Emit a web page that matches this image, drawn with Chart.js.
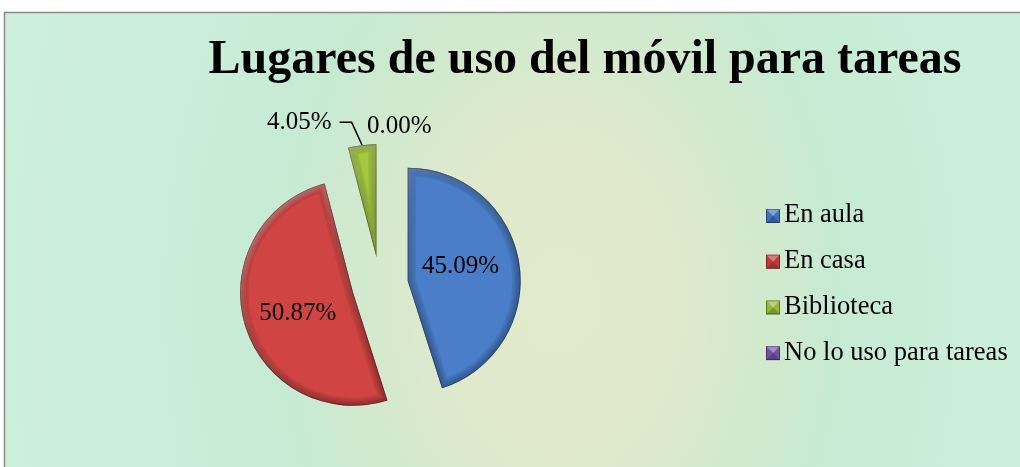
<!DOCTYPE html>
<html>
<head>
<meta charset="utf-8">
<script src="https://cdn.jsdelivr.net/npm/chart.js@4.4.1/dist/chart.umd.min.js"></script>
<style>
  html, body { margin: 0; padding: 0; background: #ffffff; }
  #wrap { position: relative; width: 1020px; height: 467px; }
  canvas { display: block; }
</style>
</head>
<body>
<div id="wrap"><canvas id="c" width="1020" height="467"></canvas></div>
<script>
// ---- data ----
const chartTitle = 'Lugares de uso del móvil para tareas';
const categories = ['En aula', 'En casa', 'Biblioteca', 'No lo uso para tareas'];
const values = [45.09, 50.87, 4.05, 0.00];
const valueLabels = ['45.09%', '50.87%', '4.05%', '0.00%'];
const sliceColors = ['#4a7ec9', '#d04543', '#a5cb3d', '#7b5aa6'];
const legendColors = ['#3f70b8', '#c03a3a', '#93b83a', '#7050a0'];

const SERIF = "'Liberation Serif', 'Times New Roman', serif";
const EXPLODE = 28;

function sliceShift(arc) {
  const mid = (arc.startAngle + arc.endAngle) / 2;
  return { dx: Math.cos(mid) * EXPLODE, dy: Math.sin(mid) * EXPLODE, mid };
}

function arcPath(ctx, arc) {
  ctx.beginPath();
  ctx.moveTo(arc.x, arc.y);
  ctx.arc(arc.x, arc.y, arc.outerRadius, arc.startAngle, arc.endAngle);
  ctx.closePath();
}

const decorPlugin = {
  id: 'decor',
  beforeDraw(chart) {
    const ctx = chart.ctx;
    ctx.save();
    ctx.fillStyle = '#ffffff';
    ctx.fillRect(0, 0, 1020, 467);
    // background gradient (elliptical)
    ctx.save();
    ctx.beginPath();
    ctx.rect(4, 12, 1030, 470);
    ctx.clip();
    ctx.translate(560, 300);
    ctx.scale(1, 1.4);
    const g = ctx.createRadialGradient(0, 0, 0, 0, 0, 580);
    g.addColorStop(0.0, '#e2e9cd');
    g.addColorStop(0.2, '#e0e9cc');
    g.addColorStop(0.34, '#d3e9ce');
    g.addColorStop(0.48, '#c7ead3');
    g.addColorStop(0.7, '#caeed9');
    g.addColorStop(1.0, '#cdefdd');
    ctx.fillStyle = g;
    ctx.fillRect(-600, -400, 1200, 800);
    ctx.restore();
    // frame
    ctx.strokeStyle = '#8a8a8a';
    ctx.lineWidth = 1.5;
    ctx.beginPath();
    ctx.moveTo(1030, 12.5);
    ctx.lineTo(4.5, 12.5);
    ctx.lineTo(4.5, 480);
    ctx.stroke();
    ctx.restore();
  },
  beforeDatasetDraw(chart, args) {
    const ctx = chart.ctx;
    const meta = args.meta;
    meta.data.forEach((arc) => {
      if (!(arc.circumference > 0)) return;
      const s = sliceShift(arc);
      ctx.save();
      ctx.translate(s.dx, s.dy);
      arc.draw(ctx);
      // soft bevel
      arcPath(ctx, arc);
      ctx.clip();
      ctx.lineJoin = 'round';
      for (let k = 0; k < 6; k++) {
        arcPath(ctx, arc);
        ctx.lineWidth = 2 + k * 3;
        ctx.strokeStyle = 'rgba(0,0,0,0.06)';
        ctx.stroke();
      }
      const R = arc.outerRadius;
      const lg = ctx.createLinearGradient(arc.x - R, arc.y - R, arc.x + R * 0.4, arc.y + R * 0.4);
      lg.addColorStop(0, 'rgba(255,255,255,0.35)');
      lg.addColorStop(0.5, 'rgba(255,255,255,0.08)');
      lg.addColorStop(1, 'rgba(255,255,255,0)');
      for (let k = 0; k < 3; k++) {
        arcPath(ctx, arc);
        ctx.lineWidth = 4 + k * 4;
        ctx.strokeStyle = lg;
        ctx.globalAlpha = 0.5;
        ctx.stroke();
      }
      ctx.globalAlpha = 1;
      arcPath(ctx, arc);
      ctx.lineWidth = 1.5;
      ctx.strokeStyle = 'rgba(0,0,0,0.3)';
      ctx.stroke();
      ctx.restore();
    });
    return false;
  },
  afterDraw(chart) {
    const ctx = chart.ctx;
    const meta = chart.getDatasetMeta(0);
    ctx.save();
    // title
    ctx.fillStyle = '#000000';
    ctx.font = 'bold 48px ' + SERIF;
    ctx.textAlign = 'center';
    ctx.textBaseline = 'alphabetic';
    ctx.fillText(chartTitle, 585, 73);

    // data labels (inside large slices)
    const labelNudge = [[-3, -6], [-1, 5]];
    ctx.font = '25px ' + SERIF;
    ctx.textBaseline = 'middle';
    meta.data.forEach((arc, i) => {
      const s = sliceShift(arc);
      const R = arc.outerRadius;
      if (values[i] >= 10) {
        const px = arc.x + s.dx + Math.cos(s.mid) * R * 0.5 + labelNudge[i][0];
        const py = arc.y + s.dy + Math.sin(s.mid) * R * 0.5 + labelNudge[i][1];
        ctx.textAlign = 'center';
        ctx.fillText(valueLabels[i], px, py);
      }
    });
    // small slice label with leader line
    const gArc = meta.data[2];
    const gs = sliceShift(gArc);
    const ex = gArc.x + gs.dx + Math.cos(gs.mid) * gArc.outerRadius;
    const ey = gArc.y + gs.dy + Math.sin(gs.mid) * gArc.outerRadius;
    const elx = ex - 10.5, ely = ey - 23;
    ctx.strokeStyle = '#000000';
    ctx.lineWidth = 1.5;
    ctx.beginPath();
    ctx.moveTo(ex, ey);
    ctx.lineTo(elx, ely);
    ctx.lineTo(elx - 12, ely);
    ctx.stroke();
    ctx.textAlign = 'right';
    ctx.fillText(valueLabels[2], elx - 20, ely);
    // zero slice label
    ctx.textAlign = 'left';
    ctx.fillText(valueLabels[3], ex + 5, ey - 19);

    // legend
    ctx.font = '26.5px ' + SERIF;
    ctx.textAlign = 'left';
    categories.forEach((cat, i) => {
      const cy = 216 + i * 45.7;
      const bx = 766, by = cy - 7, bs = 14;
      ctx.fillStyle = legendColors[i];
      ctx.fillRect(bx, by, bs, bs);
      // pyramid highlight
      ctx.fillStyle = 'rgba(255,255,255,0.35)';
      ctx.beginPath();
      ctx.moveTo(bx, by); ctx.lineTo(bx + bs, by); ctx.lineTo(bx + bs / 2, by + bs / 2); ctx.closePath();
      ctx.fill();
      ctx.fillStyle = 'rgba(0,0,0,0.18)';
      ctx.beginPath();
      ctx.moveTo(bx, by + bs); ctx.lineTo(bx + bs, by + bs); ctx.lineTo(bx + bs / 2, by + bs / 2); ctx.closePath();
      ctx.fill();
      ctx.strokeStyle = 'rgba(0,0,0,0.35)';
      ctx.lineWidth = 1;
      ctx.strokeRect(bx + 0.5, by + 0.5, bs - 1, bs - 1);
      ctx.fillStyle = '#000000';
      ctx.fillText(cat, 784, cy - 0.5);
    });
    ctx.restore();
  }
};

new Chart(document.getElementById('c'), {
  type: 'pie',
  data: {
    labels: categories,
    datasets: [{
      data: values,
      backgroundColor: sliceColors,
      borderWidth: 0,
      radius: 113
    }]
  },
  options: {
    responsive: false,
    animation: false,
    events: [],
    rotation: 0,
    layout: { padding: { left: 150, right: 410, top: 143, bottom: 40 } },
    plugins: {
      legend: { display: false },
      title: { display: false },
      tooltip: { enabled: false }
    }
  },
  plugins: [decorPlugin]
});
</script>
</body>
</html>
